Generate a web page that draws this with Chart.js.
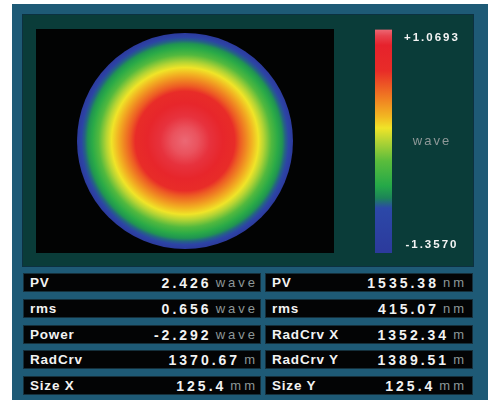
<!DOCTYPE html>
<html>
<head>
<meta charset="utf-8">
<title>Wavefront map</title>
<script src="https://cdn.jsdelivr.net/npm/chart.js@4.4.1/dist/chart.umd.min.js"></script>
<style>
  body { margin: 0; width: 488px; height: 400px; background: #fff; overflow: hidden; position: relative;
         font-family: "Liberation Sans", Arial, sans-serif; }
  #frame { position: absolute; left: 12px; top: 4px; width: 476px; height: 400px; background: #1e5a76; }
  #panel { position: absolute; left: 22px; top: 14px; width: 452px; height: 253px; box-sizing: border-box;
           background: #0a3c39; border: 1px solid #0c3140; }
  #mapBox { position: absolute; left: 36px; top: 29px; width: 298px; height: 224px; background: #020303; }
  #map { position: absolute; left: 36px; top: 29px; }
  #scale { position: absolute; left: 375px; top: 20px; }
  .cell { position: absolute; height: 19px; box-sizing: border-box; background: #030405; border: 1px solid #15303c;
          display: flex; align-items: center; color: #f2f2f2; white-space: nowrap; }
  .cell .name { font-weight: bold; font-size: 13.5px; letter-spacing: 0.8px; }
  .cell .num { margin-left: auto; font-weight: bold; font-size: 14px; letter-spacing: 3px; }
  .cell .unit { margin-left: 4px; font-size: 13px; letter-spacing: 3px; color: #8e9898; }
</style>
</head>
<body>
<div id="frame"></div>
<div id="panel"></div>
<div id="mapBox"></div>
<canvas id="map" width="298" height="224"></canvas>
<canvas id="scale" width="100" height="242"></canvas>
<div id="table"></div>
<script>
// colour scale, wave value -> colour (peak at the top, valley at the bottom)
const scaleValues = [1.0693, 1.0, 0.9, 0.62, 0.33, 0.12, 0.0, -0.14, -0.36, -0.63, -0.76, -0.87, -1.357];
const scaleColors = ['#ec6874', '#e8434e', '#e6222c', '#e82c28', '#f07c22', '#f2b822', '#f0e428',
                     '#b4d434', '#5abc3c', '#24a848', '#1c8458', '#2c48a8', '#2c3a9c'];

// radial section through the surface (radius as a fraction of the aperture)
const profileRadius = [0, 0.12, 0.23, 0.35, 0.46, 0.51, 0.57, 0.62, 0.68, 0.73, 0.8, 0.86, 0.9, 0.93, 0.96, 1.0];
const profileWave = [1.069, 1.03, 0.95, 0.8, 0.62, 0.45, 0.28, 0.14, 0.0, -0.14, -0.4, -0.6, -0.7, -0.82, -1.0, -1.357];

const waveRange = [-1.3570, 1.0693];

// readouts
const leftNames = ['PV', 'rms', 'Power', 'RadCrv', 'Size X'];
const leftValues = [2.426, 0.656, -2.292, 1370.67, 125.4];
const leftDigits = [3, 3, 3, 2, 1];
const leftUnits = ['wave', 'wave', 'wave', 'm', 'mm'];
const rightNames = ['PV', 'rms', 'RadCrv X', 'RadCrv Y', 'Size Y'];
const rightValues = [1535.38, 415.07, 1352.34, 1389.51, 125.4];
const rightDigits = [2, 2, 2, 2, 1];
const rightUnits = ['nm', 'nm', 'm', 'm', 'mm'];

const apertureX = leftValues[4];

function hexToRgb(h) {
  const n = parseInt(h.slice(1), 16);
  return [n >> 16, (n >> 8) & 255, n & 255];
}

function colorAt(v) {
  if (v >= scaleValues[0]) return scaleColors[0];
  for (let i = 1; i < scaleValues.length; i++) {
    if (v >= scaleValues[i]) {
      const t = (scaleValues[i - 1] - v) / (scaleValues[i - 1] - scaleValues[i]);
      const a = hexToRgb(scaleColors[i - 1]), b = hexToRgb(scaleColors[i]);
      const c = a.map((x, k) => Math.round(x + (b[k] - x) * t));
      return 'rgb(' + c.join(',') + ')';
    }
  }
  return scaleColors[scaleColors.length - 1];
}

function pupilRadius(chart) {
  const xs = chart.scales.x;
  const r = xs.getPixelForValue(apertureX / 2) - xs.getPixelForValue(0);
  return isFinite(r) ? r : 0;
}

function pupilFill(chart) {
  const cx = chart.scales.x.getPixelForValue(0);
  const cy = chart.scales.y.getPixelForValue(0);
  const r = pupilRadius(chart);
  if (!isFinite(cx) || !isFinite(cy) || r <= 0) return scaleColors[0];
  const g = chart.ctx.createRadialGradient(cx, cy, 0, cx, cy, r);
  profileRadius.forEach((p, i) => g.addColorStop(p, colorAt(profileWave[i])));
  return g;
}

function barFill(chart) {
  const ys = chart.scales.y;
  const top = ys.getPixelForValue(waveRange[1]);
  const bottom = ys.getPixelForValue(waveRange[0]);
  if (!isFinite(top) || !isFinite(bottom) || bottom <= top) return scaleColors[0];
  const g = chart.ctx.createLinearGradient(0, top, 0, bottom);
  scaleValues.forEach((v, i) => {
    g.addColorStop((ys.getPixelForValue(v) - top) / (bottom - top), scaleColors[i]);
  });
  return g;
}

// wavefront map
new Chart(document.getElementById('map'), {
  type: 'scatter',
  data: {
    datasets: [{
      data: [{ x: 0, y: 0 }],
      pointRadius: ctx => pupilRadius(ctx.chart),
      pointHoverRadius: ctx => pupilRadius(ctx.chart),
      backgroundColor: ctx => pupilFill(ctx.chart),
      borderWidth: 0
    }]
  },
  options: {
    responsive: false,
    animation: false,
    events: [],
    layout: { padding: 0 },
    plugins: { legend: { display: false }, tooltip: { enabled: false } },
    scales: {
      x: { type: 'linear', min: -86.5, max: 86.5, display: false },
      y: { type: 'linear', min: -65, max: 65, display: false }
    }
  }
});

// colour bar
const spacing = {
  id: 'spacing',
  beforeLayout(chart) { chart.ctx.letterSpacing = '2px'; },
  beforeDraw(chart) { chart.ctx.letterSpacing = '2px'; }
};

function signed(v) {
  return (v > 0 ? '+' : '') + v.toFixed(4);
}

new Chart(document.getElementById('scale'), {
  type: 'bar',
  data: {
    labels: ['wave'],
    datasets: [{
      data: [waveRange],
      backgroundColor: ctx => barFill(ctx.chart),
      barPercentage: 1,
      categoryPercentage: 1,
      borderWidth: 0
    }]
  },
  options: {
    responsive: false,
    animation: false,
    events: [],
    layout: { padding: { top: 9.5, bottom: 9, left: 0, right: 0 } },
    plugins: { legend: { display: false }, tooltip: { enabled: false } },
    scales: {
      x: { display: false },
      y: {
        position: 'right',
        min: waveRange[0],
        max: waveRange[1],
        grid: { display: false, drawTicks: false },
        border: { display: false },
        afterBuildTicks: axis => {
          axis.ticks = [waveRange[0], (waveRange[0] + waveRange[1]) / 2, waveRange[1]].map(v => ({ value: v }));
        },
        afterFit: axis => {
          axis.width = 83;
          axis.paddingTop = 0;
          axis.paddingBottom = 0;
        },
        ticks: {
          crossAlign: 'center',
          padding: 12,
          callback: (value, index) => {
            if (index === 0) return [signed(waveRange[0]), ''];
            if (index === 2) return ['', signed(waveRange[1])];
            return 'wave';
          },
          color: ctx => ctx.index === 1 ? '#8e9898' : '#f4f4f4',
          font: ctx => ctx.index === 1
            ? { family: 'Liberation Sans', size: 13, weight: 'normal', lineHeight: 1 }
            : { family: 'Liberation Sans', size: 11.5, weight: 'bold', lineHeight: 1.39 }
        }
      }
    }
  },
  plugins: [spacing]
});

// readout table
function cell(left, top, width, name, value, digits, unit) {
  const d = document.createElement('div');
  d.className = 'cell';
  d.style.left = left + 'px';
  d.style.top = top + 'px';
  d.style.width = width + 'px';
  d.style.paddingLeft = '6px';
  d.style.paddingRight = (left < 200 ? 2 : 5) + 'px';
  d.innerHTML = '<span class="name">' + name + '</span><span class="num">' + value.toFixed(digits) +
                '</span><span class="unit">' + unit + '</span>';
  document.getElementById('table').appendChild(d);
}

for (let i = 0; i < leftNames.length; i++) {
  const top = Math.round(273 + i * 25.75);
  cell(23, top, 238, leftNames[i], leftValues[i], leftDigits[i], leftUnits[i]);
  cell(265, top, 208, rightNames[i], rightValues[i], rightDigits[i], rightUnits[i]);
}
</script>
</body>
</html>
